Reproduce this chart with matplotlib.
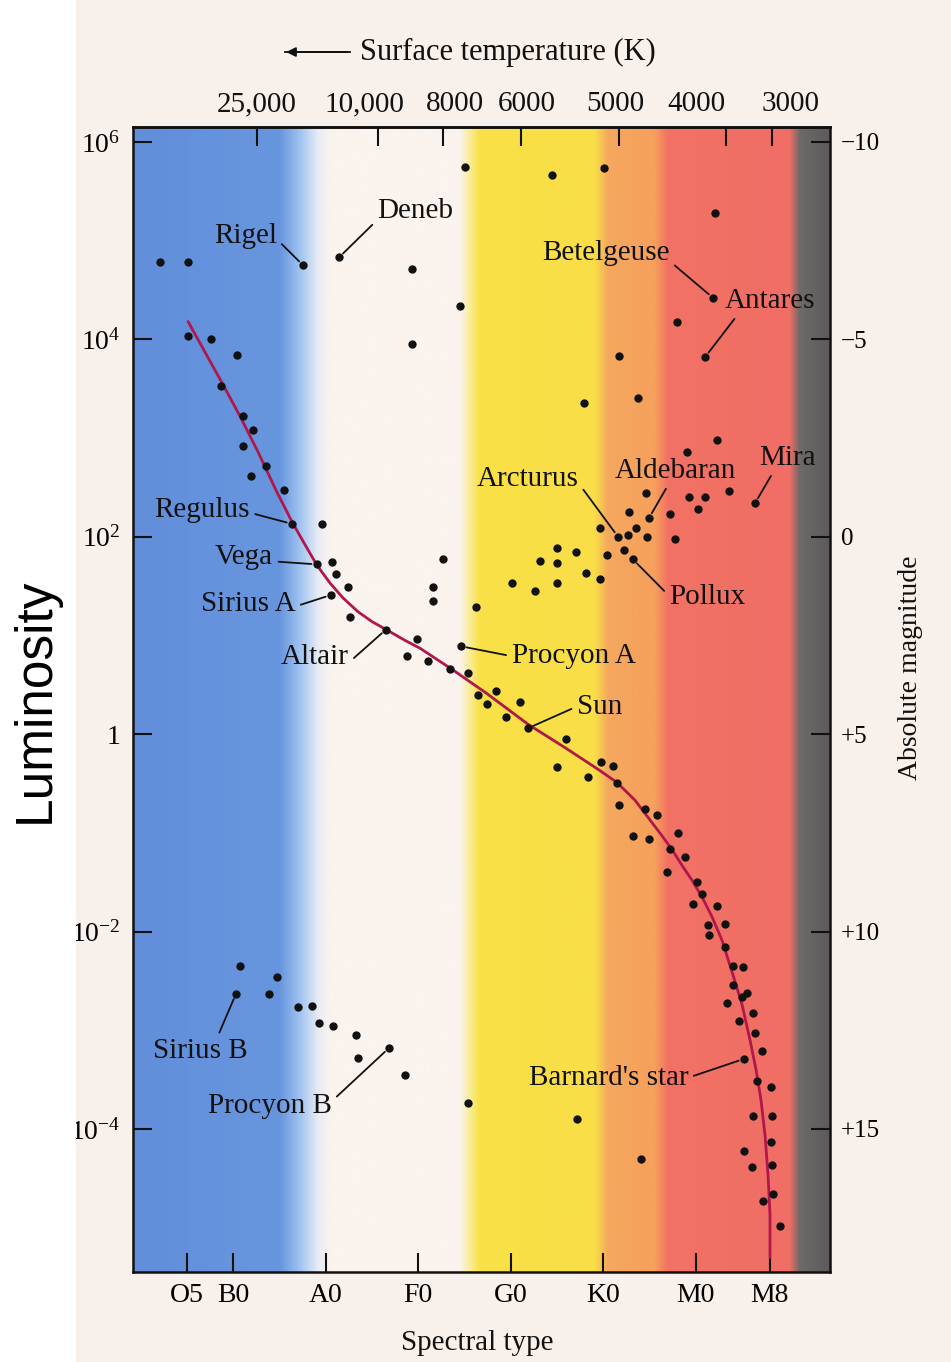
import numpy as np
import matplotlib.pyplot as plt
from matplotlib.patches import Rectangle
from matplotlib import transforms
from matplotlib.ticker import NullLocator

plt.rcParams['font.family'] = ['Liberation Serif', 'DejaVu Serif']
plt.rcParams['mathtext.fontset'] = 'custom'
plt.rcParams['mathtext.rm'] = 'Liberation Serif'

# x = spectral position (O5=5, B0=10, A0=20, F0=30, G0=40, K0=50, M0=60, M8=68)
# y = log10(L / Lsun)
spec_types = ["O5", "B0", "A0", "F0", "G0", "K0", "M0", "M8"]
spec_pos = [5, 10, 20, 30, 40, 50, 60, 68]

temp_labels = ["25,000", "10,000", "8000", "6000", "5000", "4000", "3000"]
temp_pos = [12.6, 25.7, 32.7, 41.1, 51.7, 63.3, 68.3]

lum_ticks = [6, 4, 2, 0, -2, -4]
lum_labels = [r"$\mathregular{10^{6}}$", r"$\mathregular{10^{4}}$", r"$\mathregular{10^{2}}$",
              "1", r"$\mathregular{10^{-2}}$", r"$\mathregular{10^{-4}}$"]
mag_ticks = [-10, -5, 0, 5, 10, 15]
mag_labels = ["\u221210", "\u22125", "0", "+5", "+10", "+15"]

supergiant_x = [2.11, 5.14, 17.57, 21.46, 29.35, 34.54, 29.35, 35.08, 44.49, 50.11,
                62.11, 61.89, 58.00, 51.73, 61.03, 47.95, 53.78]
supergiant_logl = [4.78, 4.78, 4.75, 4.83, 4.71, 4.34, 3.95, 5.75, 5.67, 5.74,
                   5.28, 4.42, 4.18, 3.83, 3.82, 3.36, 3.41]

main_x = [5.14, 7.62, 10.43, 8.70, 11.08, 12.16, 11.08, 13.57, 11.95, 15.51,
          16.38, 19.62, 19.08, 20.70, 21.14, 22.43, 20.59, 22.65, 26.54, 29.89,
          28.81, 31.08, 33.46, 35.41, 34.65, 36.49, 38.43, 37.46, 41.03, 39.51,
          41.89, 46.00, 45.03, 49.78, 51.08, 48.38, 51.51, 51.73, 54.54, 55.84,
          53.24, 54.97, 58.11, 57.24, 56.92, 58.86, 60.16, 60.70, 59.73, 62.32,
          61.35, 63.19, 61.46, 63.19, 64.05, 65.14, 64.05, 65.57, 65.03, 63.41,
          66.22, 64.70, 66.43, 67.19, 65.24, 66.65, 68.16, 66.22, 68.27, 68.16,
          65.24, 68.27, 66.11, 68.38, 67.30, 69.14]
main_logl = [4.03, 4.00, 3.84, 3.53, 3.22, 3.08, 2.92, 2.72, 2.62, 2.47,
             2.13, 2.13, 1.72, 1.74, 1.62, 1.49, 1.41, 1.19, 1.06, 0.96,
             0.79, 0.74, 0.66, 0.62, 0.89, 0.40, 0.44, 0.31, 0.33, 0.17,
             0.06, -0.05, -0.33, -0.28, -0.32, -0.43, -0.49, -0.72, -0.76, -0.82,
             -1.03, -1.06, -1.00, -1.16, -1.40, -1.24, -1.50, -1.62, -1.72, -1.74,
             -1.93, -1.92, -2.04, -2.16, -2.35, -2.36, -2.54, -2.62, -2.66, -2.72,
             -2.83, -2.91, -3.03, -3.21, -3.29, -3.51, -3.57, -3.87, -3.87, -4.13,
             -4.22, -4.37, -4.39, -4.66, -4.73, -4.98]

giant_x = [32.70, 31.62, 31.62, 36.27, 40.16, 42.65, 45.03, 43.19, 45.03, 45.03,
           47.08, 48.16, 49.68, 49.68, 50.43, 51.62, 52.70, 53.57, 52.27, 53.24,
           54.76, 57.78, 52.81, 54.97, 57.24, 60.27, 54.65, 59.30, 61.03, 63.62,
           66.43, 62.32, 59.08]
giant_logl = [1.77, 1.49, 1.35, 1.29, 1.53, 1.45, 1.53, 1.75, 1.89, 1.73,
              1.85, 1.63, 1.57, 2.09, 1.82, 2.00, 2.02, 2.09, 1.87, 1.77,
              2.00, 1.98, 2.25, 2.19, 2.23, 2.28, 2.44, 2.40, 2.40, 2.46,
              2.34, 2.98, 2.86]

dwarf_x = [10.76, 14.76, 10.32, 13.89, 17.03, 18.54, 19.30, 20.81, 23.30, 26.86,
           23.51, 28.59, 35.41, 47.19, 54.11]
dwarf_logl = [-2.35, -2.46, -2.63, -2.63, -2.76, -2.75, -2.93, -2.96, -3.05, -3.18,
              -3.28, -3.45, -3.74, -3.90, -4.30]

# main sequence line
curve_x = [5.14, 6.97, 8.81, 10.76, 12.70, 14.65, 16.38, 17.78, 19.08, 20.49,
           21.89, 23.51, 25.03, 26.54, 28.59, 30.22, 33.78, 37.46, 41.89, 46.11,
           49.68, 51.51, 53.46, 55.08, 56.38, 57.46, 58.54, 59.62, 60.70, 61.78,
           62.87, 64.05, 65.03, 65.89, 66.54, 67.08, 67.51, 67.84, 68.05, 68.05]
curve_logl = [4.18, 3.87, 3.56, 3.22, 2.86, 2.47, 2.15, 1.92, 1.71, 1.53,
              1.38, 1.24, 1.14, 1.06, 0.95, 0.87, 0.65, 0.41, 0.10, -0.15,
              -0.37, -0.49, -0.67, -0.87, -1.03, -1.17, -1.33, -1.48, -1.65, -1.85,
              -2.09, -2.44, -2.74, -3.10, -3.40, -3.71, -4.06, -4.47, -4.87, -5.30]

# named stars
star_names = ["Rigel", "Deneb", "Betelgeuse", "Antares", "Mira", "Aldebaran", "Arcturus",
              "Pollux", "Regulus", "Vega", "Sirius A", "Altair", "Procyon A", "Sun",
              "Sirius B", "Procyon B", "Barnard's star"]
star_x = [17.57, 21.46, 61.89, 61.03, 66.43, 54.97, 51.62, 53.24, 16.38, 19.08,
          20.59, 26.54, 34.65, 41.89, 10.32, 26.86, 65.24]
star_logl = [4.75, 4.83, 4.42, 3.82, 2.34, 2.19, 2.00, 1.77, 2.13, 1.72,
             1.41, 1.06, 0.89, 0.06, -2.63, -3.18, -3.29]

# label placement (text centre in data coords) and where the leader leaves the text
label_xy = [(11.35, 5.05), (29.68, 5.30), (50.33, 4.87), (68.05, 4.39), (69.95, 2.80),
            (57.78, 2.67), (41.89, 2.59), (61.24, 1.39), (6.65, 2.27), (11.19, 1.79),
            (11.62, 1.32), (18.87, 0.78), (46.81, 0.79), (49.62, 0.28), (6.43, -3.21),
            (14.00, -3.77), (50.60, -3.48)]
label_rel = [(1, 0.36), (0, 0.15), (1, 0.2), (0.15, 0), (0.26, 0), (0.45, 0), (1, 0.3),
             (0, 0.55), (1, 0.4), (1, 0.35), (1, 0.4), (1, 0.3), (0, 0.5), (0, 0.5),
             (0.68, 1), (1, 0.7), (1, 0.5)]

xmin, xmax = -0.81, 74.54
ymin, ymax = -5.449, 6.152

bg = '#f8f0ea'
fig = plt.figure(figsize=(9.51, 13.62), dpi=100, facecolor=bg)
ax = fig.add_axes([0.1399, 0.0661, 0.7329, 0.8407])

# colour bands behind the stars
stop_x = [-0.81, 15.08, 17.24, 19.19, 20.49, 34.54, 35.62, 36.70, 49.14, 50.54,
          55.62, 57.03, 70.22, 71.30, 74.54]
stop_rgb = [(98, 142, 218), (104, 150, 222), (160, 195, 240), (232, 236, 245),
            (250, 243, 238), (250, 243, 238), (250, 236, 150), (249, 225, 70),
            (249, 222, 72), (245, 168, 95), (245, 160, 92), (242, 114, 100),
            (240, 110, 102), (110, 106, 106), (92, 90, 90)]
frac = (np.array(stop_x) - xmin) / (xmax - xmin)
s = np.linspace(0, 1, 900)
rgb = np.array(stop_rgb) / 255.0
img = np.stack([np.interp(s, frac, rgb[:, k]) for k in range(3)], axis=-1)[None, :, :]
ax.imshow(img, extent=(0, 1, 0, 1), transform=ax.transAxes, aspect='auto',
          interpolation='bilinear', zorder=0)

ax.set_yscale('log')

ax.plot(curve_x, 10 ** np.array(curve_logl), color='#b0174a', lw=2.0,
        solid_joinstyle='round', solid_capstyle='round', zorder=2)

dot = dict(s=36, color='#111111', linewidths=0, zorder=3)
ax.scatter(supergiant_x, 10 ** np.array(supergiant_logl), **dot)
ax.scatter(main_x, 10 ** np.array(main_logl), **dot)
ax.scatter(giant_x, 10 ** np.array(giant_logl), **dot)
ax.scatter(dwarf_x, 10 ** np.array(dwarf_logl), **dot)

for name, sx, sl, (tx, tl), rp in zip(star_names, star_x, star_logl, label_xy, label_rel):
    ax.annotate(name, xy=(sx, 10 ** sl), xytext=(tx, 10 ** tl), textcoords='data',
                ha='center', va='center', fontsize=21, color='#111111', zorder=4,
                arrowprops=dict(arrowstyle='-', color='#111111', lw=1.3,
                                shrinkA=2, shrinkB=4, relpos=rp))

ax.set_xlim(xmin, xmax)
ax.set_ylim(10 ** ymin, 10 ** ymax)

ax.set_xticks(spec_pos, labels=spec_types)
ax.set_yticks([10.0 ** t for t in lum_ticks], labels=lum_labels)
ax.yaxis.set_minor_locator(NullLocator())
ax.tick_params(direction='in', length=14, width=1.5, color='#111111')
ax.tick_params(axis='x', labelsize=20, pad=8)
ax.tick_params(axis='y', labelsize=20, pad=9)
for sp in ax.spines.values():
    sp.set_linewidth(1.8)
    sp.set_color('#111111')

# temperature ticks on top
top = ax.secondary_xaxis('top')
top.set_xticks(temp_pos, labels=[''] * len(temp_pos))
top.tick_params(direction='in', length=14, width=1.5, color='#111111')
top.spines['top'].set_linewidth(1.8)

# absolute magnitude on the right
ax2 = ax.twinx()
ax2.set_yscale('log')
ax2.set_ylim(ax.get_ylim())
ax2.set_yticks([10 ** ((5 - m) / 2.5) for m in mag_ticks], labels=mag_labels)
ax2.yaxis.set_minor_locator(NullLocator())
ax2.tick_params(direction='in', length=14, width=1.5, color='#111111', labelsize=18, pad=8)
for sp in ax2.spines.values():
    sp.set_visible(False)

trans = transforms.blended_transform_factory(ax.transData, fig.transFigure)
temp_label_pos = [12.59, 24.17, 34.00, 41.78, 51.30, 60.05, 70.32]
for lab, p in zip(temp_labels, temp_label_pos):
    ax.text(p, 0.9236, lab, transform=trans, ha='center', va='center', fontsize=21,
            color='#111111', clip_on=False)

fig.text(0.3785, 0.9618, "Surface temperature (K)", ha='left', va='center',
         fontsize=22, color='#111111')
fig.add_artist(plt.Line2D([0.3, 0.368], [0.9618, 0.9618], color='#111111', lw=1.3))
ax.annotate('', xy=(0.298, 0.9618), xycoords='figure fraction',
            xytext=(0.368, 0.9618), textcoords='figure fraction',
            arrowprops=dict(arrowstyle='-|>', color='#111111', lw=1.3, mutation_scale=14))

fig.text(0.5016, 0.0140, "Spectral type", ha='center', va='center', fontsize=21,
         color='#111111')
fig.text(0.957, 0.5096, "Absolute magnitude", rotation=90, ha='center', va='center',
         fontsize=20, color='#111111')

# white strip on the left with the luminosity label
fig.add_artist(Rectangle((0, 0), 0.0799, 1, transform=fig.transFigure,
                         facecolor='white', edgecolor='none', zorder=5))
fig.text(0.0368, 0.486, "Luminosity", rotation=90, ha='center', va='center',
         family=['Liberation Sans', 'DejaVu Sans'], fontsize=37, color='black', zorder=6)

fig.savefig("out.png", dpi=100, facecolor=bg)
